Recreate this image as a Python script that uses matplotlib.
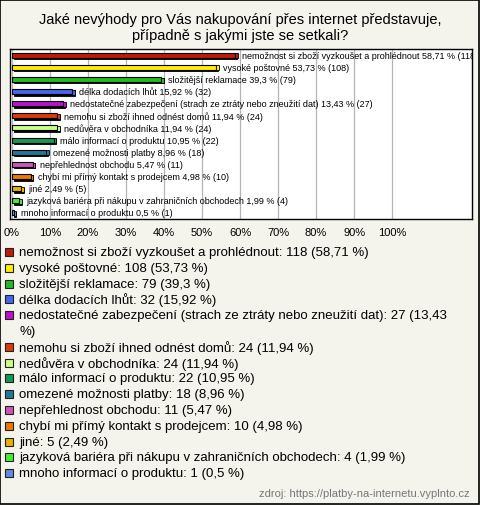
import textwrap
import matplotlib
matplotlib.use("Agg")
import matplotlib.pyplot as plt
from matplotlib.patches import Rectangle

plt.rcParams['font.family'] = ['Liberation Sans', 'DejaVu Sans']

title = "Jaké nevýhody pro Vás nakupování přes internet představuje,\npřípadně s jakými jste se setkali?"
categories = [
    "nemožnost si zboží vyzkoušet a prohlédnout",
    "vysoké poštovné",
    "složitější reklamace",
    "délka dodacích lhůt",
    "nedostatečné zabezpečení (strach ze ztráty nebo zneužití dat)",
    "nemohu si zboží ihned odnést domů",
    "nedůvěra v obchodníka",
    "málo informací o produktu",
    "omezené možnosti platby",
    "nepřehlednost obchodu",
    "chybí mi přímý kontakt s prodejcem",
    "jiné",
    "jazyková bariéra při nákupu v zahraničních obchodech",
    "mnoho informací o produktu",
]
counts = [118, 108, 79, 32, 27, 24, 24, 22, 18, 11, 10, 5, 4, 1]
percents = [58.71, 53.73, 39.3, 15.92, 13.43, 11.94, 11.94, 10.95, 8.96, 5.47, 4.98, 2.49, 1.99, 0.5]
colors = ["#c01a0a", "#ffee00", "#22bb22", "#4466ee", "#bb11cc", "#dd3a0a", "#ccff88",
          "#119955", "#227799", "#cc55bb", "#ee7700", "#e8b000", "#44ee33", "#6688dd"]
xticks = [0, 10, 20, 30, 40, 50, 60, 70, 80, 90, 100]
source = "zdroj: https://platby-na-internetu.vyplnto.cz"

W, H = 480, 506
fig = plt.figure(figsize=(W / 100, H / 100), dpi=100)
fig.patch.set_facecolor("#f4f3ec")
fig.patches.append(Rectangle((0.001, 0.001), 0.997, 0.997, transform=fig.transFigure,
                             fill=False, edgecolor="black", linewidth=1.2))

fig.text(0.5, 1 - 28 / H, title, ha="center", va="center", fontsize=10.5, linespacing=1.1)

# bar area in pixels: left 10, right 472, top 50, bottom 220
ax = fig.add_axes([10 / W, 1 - 220 / H, 462 / W, 170 / H])
ax.set_facecolor("white")
n = len(categories)
ypos = list(range(n))
ax.set_xlim(-0.5, 121)
ax.set_ylim(n - 0.5, -0.5)
for x in xticks:
    ax.axvline(x, color="#b4b4b4", linewidth=0.9, zorder=0)

def pct_str(p):
    return f"{p:g}".replace(".", ",")

bh = 0.42
for y, p, c, cat, cnt in zip(ypos, percents, colors, categories, counts):
    # shadow
    ax.add_patch(Rectangle((0.6, y - bh / 2 + 0.12), p, bh, facecolor="black",
                           edgecolor="black", linewidth=0.6, zorder=2))
    ax.barh(y, p, height=bh, color=c, edgecolor="black", linewidth=0.8, zorder=3)
    ax.add_patch(Rectangle((p, y - bh / 2 + 0.06), 0.7, bh, facecolor=c,
                           edgecolor="black", linewidth=0.6, zorder=3))
    ax.text(p + 1.8, y, f"{cat} {pct_str(p)} % ({cnt})", va="center", ha="left",
            fontsize=6.5, clip_on=True, zorder=4)

ax.set_yticks([])
ax.set_xticks(xticks)
ax.set_xticklabels([f"{x}%" for x in xticks], fontsize=8)
ax.tick_params(axis="x", length=0, pad=6)
for s in ax.spines.values():
    s.set_linewidth(1.0)
    s.set_color("black")

# legend drawn by hand
y = 253
step = 15.8
for cat, cnt, p, c in zip(categories, counts, percents, colors):
    lines = textwrap.wrap(f"{cat}: {cnt} ({pct_str(p)} %)", width=74)
    fig.patches.append(Rectangle((5 / W, 1 - (y + 4) / H), 8 / W, 8 / H,
                                 transform=fig.transFigure, facecolor=c,
                                 edgecolor="#222222", linewidth=0.8))
    for line in lines:
        fig.text(19 / W, 1 - y / H, line, ha="left", va="center", fontsize=9.5)
        y += step

fig.text(470 / W, 1 - 494 / H, source, ha="right", va="center", fontsize=8, color="#777777")

fig.savefig("out.png", dpi=100, facecolor=fig.get_facecolor())
